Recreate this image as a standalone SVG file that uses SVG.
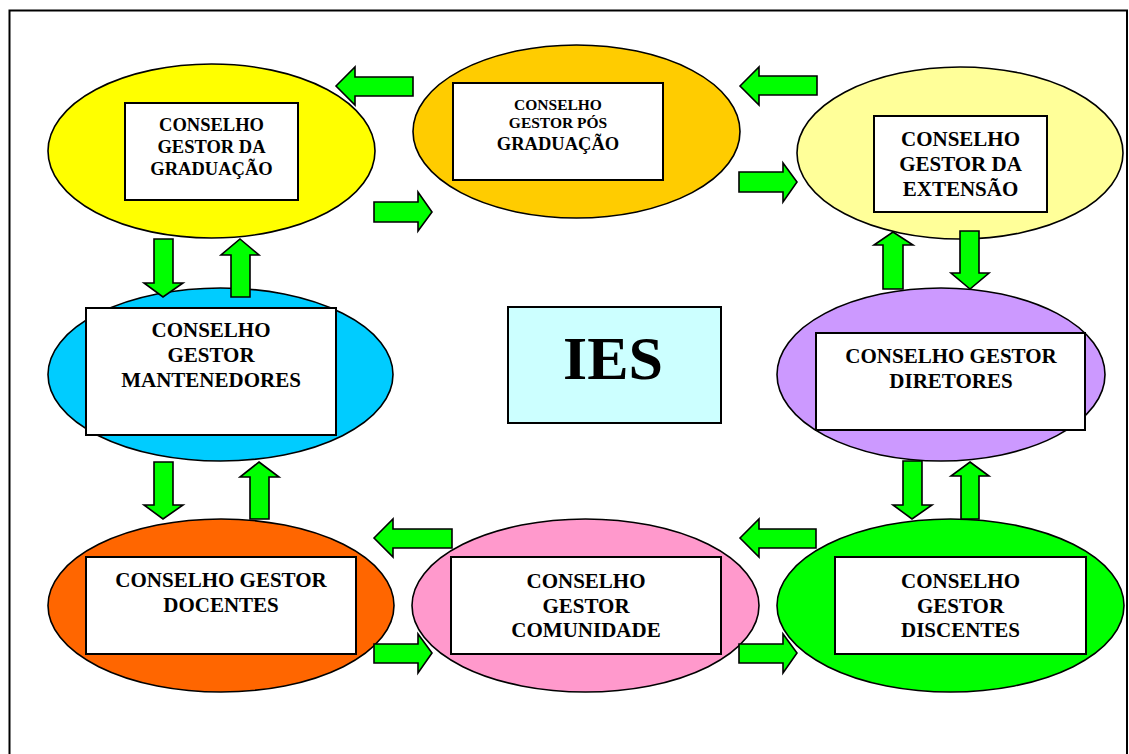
<svg xmlns="http://www.w3.org/2000/svg" width="1129" height="754" viewBox="0 0 1129 754">
  <style>
    .oval { stroke: #000; stroke-width: 1.6; }
    .box { fill: #fff; stroke: #000; stroke-width: 2; }
    .lbl { font-family: "Liberation Serif", "Times New Roman", serif; font-weight: bold; fill: #000; text-anchor: middle; }
    .arrow { fill: #00ff00; stroke: #000; stroke-width: 1.6; stroke-linejoin: miter; }
  </style>
  <rect width="1129" height="754" fill="#fff"/>
  <!-- page frame -->
  <path d="M9.5,754 V10.5 H1127 V754" fill="none" stroke="#000" stroke-width="2"/>

  <g id="graduacao">
    <ellipse class="oval" cx="211.5" cy="151" rx="163.5" ry="87" fill="#ffff00"/>
    <rect class="box" x="125" y="103" width="173" height="97"/>
    <text class="lbl" font-size="18.5" x="211.5"><tspan x="211.5" y="131">CONSELHO</tspan><tspan x="211.5" y="153">GESTOR DA</tspan><tspan x="211.5" y="175">GRADUAÇÃO</tspan></text>
  </g>

  <g id="pos-graduacao">
    <ellipse class="oval" cx="576.5" cy="131.5" rx="163.5" ry="86.5" fill="#ffcc00"/>
    <rect class="box" x="453" y="83" width="210" height="97"/>
    <text class="lbl" font-size="15.5"><tspan x="558" y="110">CONSELHO</tspan><tspan x="558" y="128">GESTOR PÓS</tspan></text>
    <text class="lbl" font-size="18.5" x="558" y="150">GRADUAÇÃO</text>
  </g>

  <g id="extensao">
    <ellipse class="oval" cx="960" cy="153" rx="163" ry="86" fill="#ffff99"/>
    <rect class="box" x="874" y="116" width="173" height="96"/>
    <text class="lbl" font-size="21"><tspan x="960.5" y="146">CONSELHO</tspan><tspan x="960.5" y="171">GESTOR DA</tspan><tspan x="960.5" y="196">EXTENSÃO</tspan></text>
  </g>

  <g id="mantenedores">
    <ellipse class="oval" cx="220.5" cy="374.5" rx="172.5" ry="86.5" fill="#00ccff"/>
    <rect class="box" x="86" y="308" width="250" height="127"/>
    <text class="lbl" font-size="21"><tspan x="211" y="337">CONSELHO</tspan><tspan x="211" y="362">GESTOR</tspan><tspan x="211" y="387">MANTENEDORES</tspan></text>
  </g>

  <g id="ies">
    <rect x="508" y="307" width="213" height="116" fill="#ccffff" stroke="#000" stroke-width="2"/>
    <text class="lbl" font-size="62" x="613" y="379">IES</text>
  </g>

  <g id="diretores">
    <ellipse class="oval" cx="941" cy="374.5" rx="164" ry="86.5" fill="#cc99ff"/>
    <rect class="box" x="816" y="333" width="269" height="97"/>
    <text class="lbl" font-size="21"><tspan x="951" y="363">CONSELHO GESTOR</tspan><tspan x="951" y="388">DIRETORES</tspan></text>
  </g>

  <g id="docentes">
    <ellipse class="oval" cx="221" cy="605.5" rx="173" ry="86.5" fill="#ff6600"/>
    <rect class="box" x="86" y="557" width="270" height="97"/>
    <text class="lbl" font-size="21"><tspan x="221" y="587">CONSELHO GESTOR</tspan><tspan x="221" y="612">DOCENTES</tspan></text>
  </g>

  <g id="comunidade">
    <ellipse class="oval" cx="585.5" cy="605.5" rx="173.5" ry="86.5" fill="#ff99cc"/>
    <rect class="box" x="451" y="557" width="270" height="97"/>
    <text class="lbl" font-size="21"><tspan x="586" y="588">CONSELHO</tspan><tspan x="586" y="613">GESTOR</tspan><tspan x="586" y="637">COMUNIDADE</tspan></text>
  </g>

  <g id="discentes">
    <ellipse class="oval" cx="950.5" cy="605.5" rx="173.5" ry="86.5" fill="#00ff00"/>
    <rect class="box" x="835" y="557" width="251" height="97"/>
    <text class="lbl" font-size="21"><tspan x="960.5" y="588">CONSELHO</tspan><tspan x="960.5" y="613">GESTOR</tspan><tspan x="960.5" y="637">DISCENTES</tspan></text>
  </g>

  <!-- block arrows between the councils -->
  <g id="connectors">
    <polygon class="arrow" points="336,86 355,67 355,77 413,77 413,96 355,96 355,105"/>
    <polygon class="arrow" points="374,202 418,202 418,192 432,212 418,231 418,222 374,222"/>
    <polygon class="arrow" points="740,86 759,67 759,76 817,76 817,95 759,95 759,105"/>
    <polygon class="arrow" points="739,172 783,172 783,163 797,182 783,202 783,192 739,192"/>

    <polygon class="arrow" points="154,239 173,239 173,283 183,283 163,297 144,283 154,283"/>
    <polygon class="arrow" points="240,239 259,255 250,255 250,297 231,297 231,255 221,255"/>
    <polygon class="arrow" points="893,232 913,245 903,245 903,289 883,289 883,245 874,245"/>
    <polygon class="arrow" points="960,231 979,231 979,273 989,273 970,289 951,273 960,273"/>

    <polygon class="arrow" points="154,462 173,462 173,505 183,505 163,519 144,505 154,505"/>
    <polygon class="arrow" points="259,462 279,477 269,477 269,519 250,519 250,477 240,477"/>
    <polygon class="arrow" points="903,461 922,461 922,505 932,505 912,519 893,505 903,505"/>
    <polygon class="arrow" points="970,462 989,476 979,476 979,519 961,519 961,476 951,476"/>

    <polygon class="arrow" points="374,538 393,519 393,529 452,529 452,548 393,548 393,557"/>
    <polygon class="arrow" points="374,644 418,644 418,634 432,653 418,673 418,663 374,663"/>
    <polygon class="arrow" points="740,538 759,519 759,529 816,529 816,548 759,548 759,557"/>
    <polygon class="arrow" points="739,644 783,644 783,634 797,653 783,673 783,663 739,663"/>
  </g>
</svg>
